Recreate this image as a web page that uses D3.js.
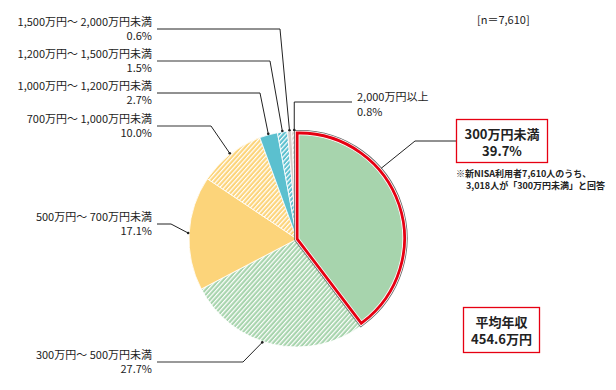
<!DOCTYPE html>
<html>
<head>
<meta charset="utf-8">
<title>年収分布</title>
<script src="https://d3js.org/d3.v7.min.js"></script>
<style>
  body { margin: 0; background: #fff; }
  svg { display: block; font-family: "Noto Sans CJK JP", "Noto Sans", sans-serif; }
</style>
</head>
<body>
<svg></svg>
<script>
// データ
const categories = ["300万円未満", "300万円～ 500万円未満", "500万円～ 700万円未満", "700万円～ 1,000万円未満",
  "1,000万円～ 1,200万円未満", "1,200万円～ 1,500万円未満", "1,500万円～ 2,000万円未満", "2,000万円以上"];
const values = [39.7, 27.7, 17.1, 10.0, 2.7, 1.5, 0.6, 0.8];
const sampleText = "[n＝7,610]";
const noteLines = ["※新NISA利用者7,610人のうち、", "3,018人が「300万円未満」と回答"];
const avgLines = ["平均年収", "454.6万円"];

// 見た目の設定
const fills = ["#a7d4ad", "#a7d4ad", "#fcd47a", "#fcd47a", "#5bc0cf", "#5bc0cf", "#d6d0cc", "#d6d0cc"];
const hatched = [false, true, false, true, false, true, false, true];
const width = 616, height = 390;
const cx = 297, cy = 239, r = 108;

// 左側ラベルのレイアウト (index 1..6)
const leaderY = [null, 362, 224, 126, 93, 61, 29, null];
const elbowX = [null, 243, 171, 211, 260, 270, 280, null];
const leaderAt = [0.35, 0.56, 0.5, 0.5, 0.5, 0.5, 0.5, 0.5];
const grayLine = [false, true, false, true, false, true, false, false];

const svg = d3.select("svg").attr("width", width).attr("height", height);

const defs = svg.append("defs");
fills.forEach((c, i) => {
  if (!hatched[i]) return;
  const p = defs.append("pattern").attr("id", "hatch" + i)
    .attr("patternUnits", "userSpaceOnUse").attr("width", 3.3).attr("height", 10)
    .attr("patternTransform", "rotate(42)");
  p.append("rect").attr("width", 3.3).attr("height", 10).attr("fill", c);
  p.append("line").attr("x1", 0.6).attr("x2", 0.6).attr("y1", 0).attr("y2", 10)
    .attr("stroke", "#fff").attr("stroke-width", 1.2);
});

const pie = d3.pie().sort(null).value(d => d)(values);
const arc = d3.arc().innerRadius(0).outerRadius(r);
const pt = (a, rr) => [cx + rr * Math.sin(a), cy - rr * Math.cos(a)];

// 扇形
const g = svg.append("g").attr("transform", `translate(${cx},${cy})`);
g.selectAll("path.slice").data(pie.slice(1)).enter().append("path")
  .attr("class", "slice")
  .attr("d", arc)
  .attr("fill", (d, i) => hatched[i + 1] ? `url(#hatch${i + 1})` : fills[i + 1])
  .attr("stroke", "#fff").attr("stroke-width", 0.8);

// 強調された「300万円未満」
const s0 = pie[0];
const mid0 = (s0.startAngle + s0.endAngle) / 2;
const off = 2.5;
const hg = svg.append("g")
  .attr("transform", `translate(${cx + off * Math.sin(mid0)},${cy - off * Math.cos(mid0)})`);
const arc0 = d3.arc().innerRadius(0).outerRadius(r - 5);
[["#666", 10.4], ["#fff", 8.8], ["#e60012", 7.2], ["#fff", 1.6]].forEach(([c, w]) => {
  hg.append("path").attr("d", arc0(s0)).attr("fill", "none")
    .attr("stroke", c).attr("stroke-width", w).attr("stroke-linejoin", "miter").attr("stroke-miterlimit", 10);
});
hg.append("path").attr("d", arc0(s0)).attr("fill", fills[0]);

// 引出線
const lines = svg.append("g").attr("fill", "none");
const dot = p => lines.append("circle").attr("cx", p[0]).attr("cy", p[1]).attr("r", 1.3).attr("fill", "#222");
const anchor = i => {
  const d = pie[i];
  const a = d.startAngle + (d.endAngle - d.startAngle) * leaderAt[i];
  return pt(a, r + (i === 0 ? 2 : 1));
};

// 2行テキスト
const twoLines = (parent, x, y, gap, a, b, x2) => {
  const t = parent.append("text").attr("x", x).attr("y", y);
  t.append("tspan").attr("x", x).attr("y", y).text(a);
  t.append("tspan").attr("x", x2 === undefined ? x : x2).attr("y", y + gap).text(b);
  return t;
};

// 左側ラベル
const left = svg.append("g").attr("font-size", 11).attr("fill", "#222").attr("text-anchor", "end");
for (let i = 1; i <= 6; i++) {
  const y = leaderY[i];
  const e = anchor(i);
  lines.append("line").attr("x1", 157).attr("x2", elbowX[i]).attr("y1", y).attr("y2", y)
    .attr("stroke", grayLine[i] ? "#777" : "#222").attr("stroke-width", grayLine[i] ? 1.6 : 1);
  lines.append("line").attr("x1", elbowX[i]).attr("y1", y).attr("x2", e[0]).attr("y2", e[1])
    .attr("stroke", "#222").attr("stroke-width", 1);
  dot(e);
  twoLines(left, 152, y - 3, 13.5, categories[i], values[i].toFixed(1) + "%");
}

// 2,000万円以上
{
  const e = anchor(7);
  lines.append("polyline").attr("points", `352,102 ${e[0]},102 ${e[0]},${e[1]}`)
    .attr("stroke", "#222").attr("stroke-width", 1);
  dot(e);
  const t = svg.append("g").attr("font-size", 11).attr("fill", "#222");
  twoLines(t, 357, 101, 14.5, categories[7], values[7].toFixed(1) + "%");
}

// 300万円未満 ボックス
{
  const e = anchor(0);
  lines.append("polyline").attr("points", `456,141 415,141 ${e[0]},${e[1]}`)
    .attr("stroke", "#222").attr("stroke-width", 1);
  svg.append("rect").attr("x", 456.5).attr("y", 119.5).attr("width", 91).attr("height", 43)
    .attr("fill", "#fff").attr("stroke", "#e60012").attr("stroke-width", 1.3);
  const t = svg.append("g").attr("font-size", 13).attr("font-weight", "bold").attr("fill", "#222")
    .attr("text-anchor", "middle");
  twoLines(t, 502, 139, 17, categories[0], values[0].toFixed(1) + "%");
  const n = svg.append("g").attr("font-size", 9).attr("font-weight", "bold").attr("fill", "#222");
  twoLines(n, 456, 177, 12, noteLines[0], noteLines[1], 466);
}

// 平均年収 ボックス
{
  svg.append("rect").attr("x", 463.5).attr("y", 307.5).attr("width", 76).attr("height", 45)
    .attr("fill", "#fff").attr("stroke", "#e60012").attr("stroke-width", 1.3);
  const t = svg.append("g").attr("font-size", 13).attr("font-weight", "bold").attr("fill", "#222")
    .attr("text-anchor", "middle");
  twoLines(t, 501.5, 327, 17, avgLines[0], avgLines[1]);
}

// サンプル数
svg.append("text").attr("x", 477).attr("y", 24).attr("font-size", 11).attr("fill", "#222").text(sampleText);
</script>
</body>
</html>
